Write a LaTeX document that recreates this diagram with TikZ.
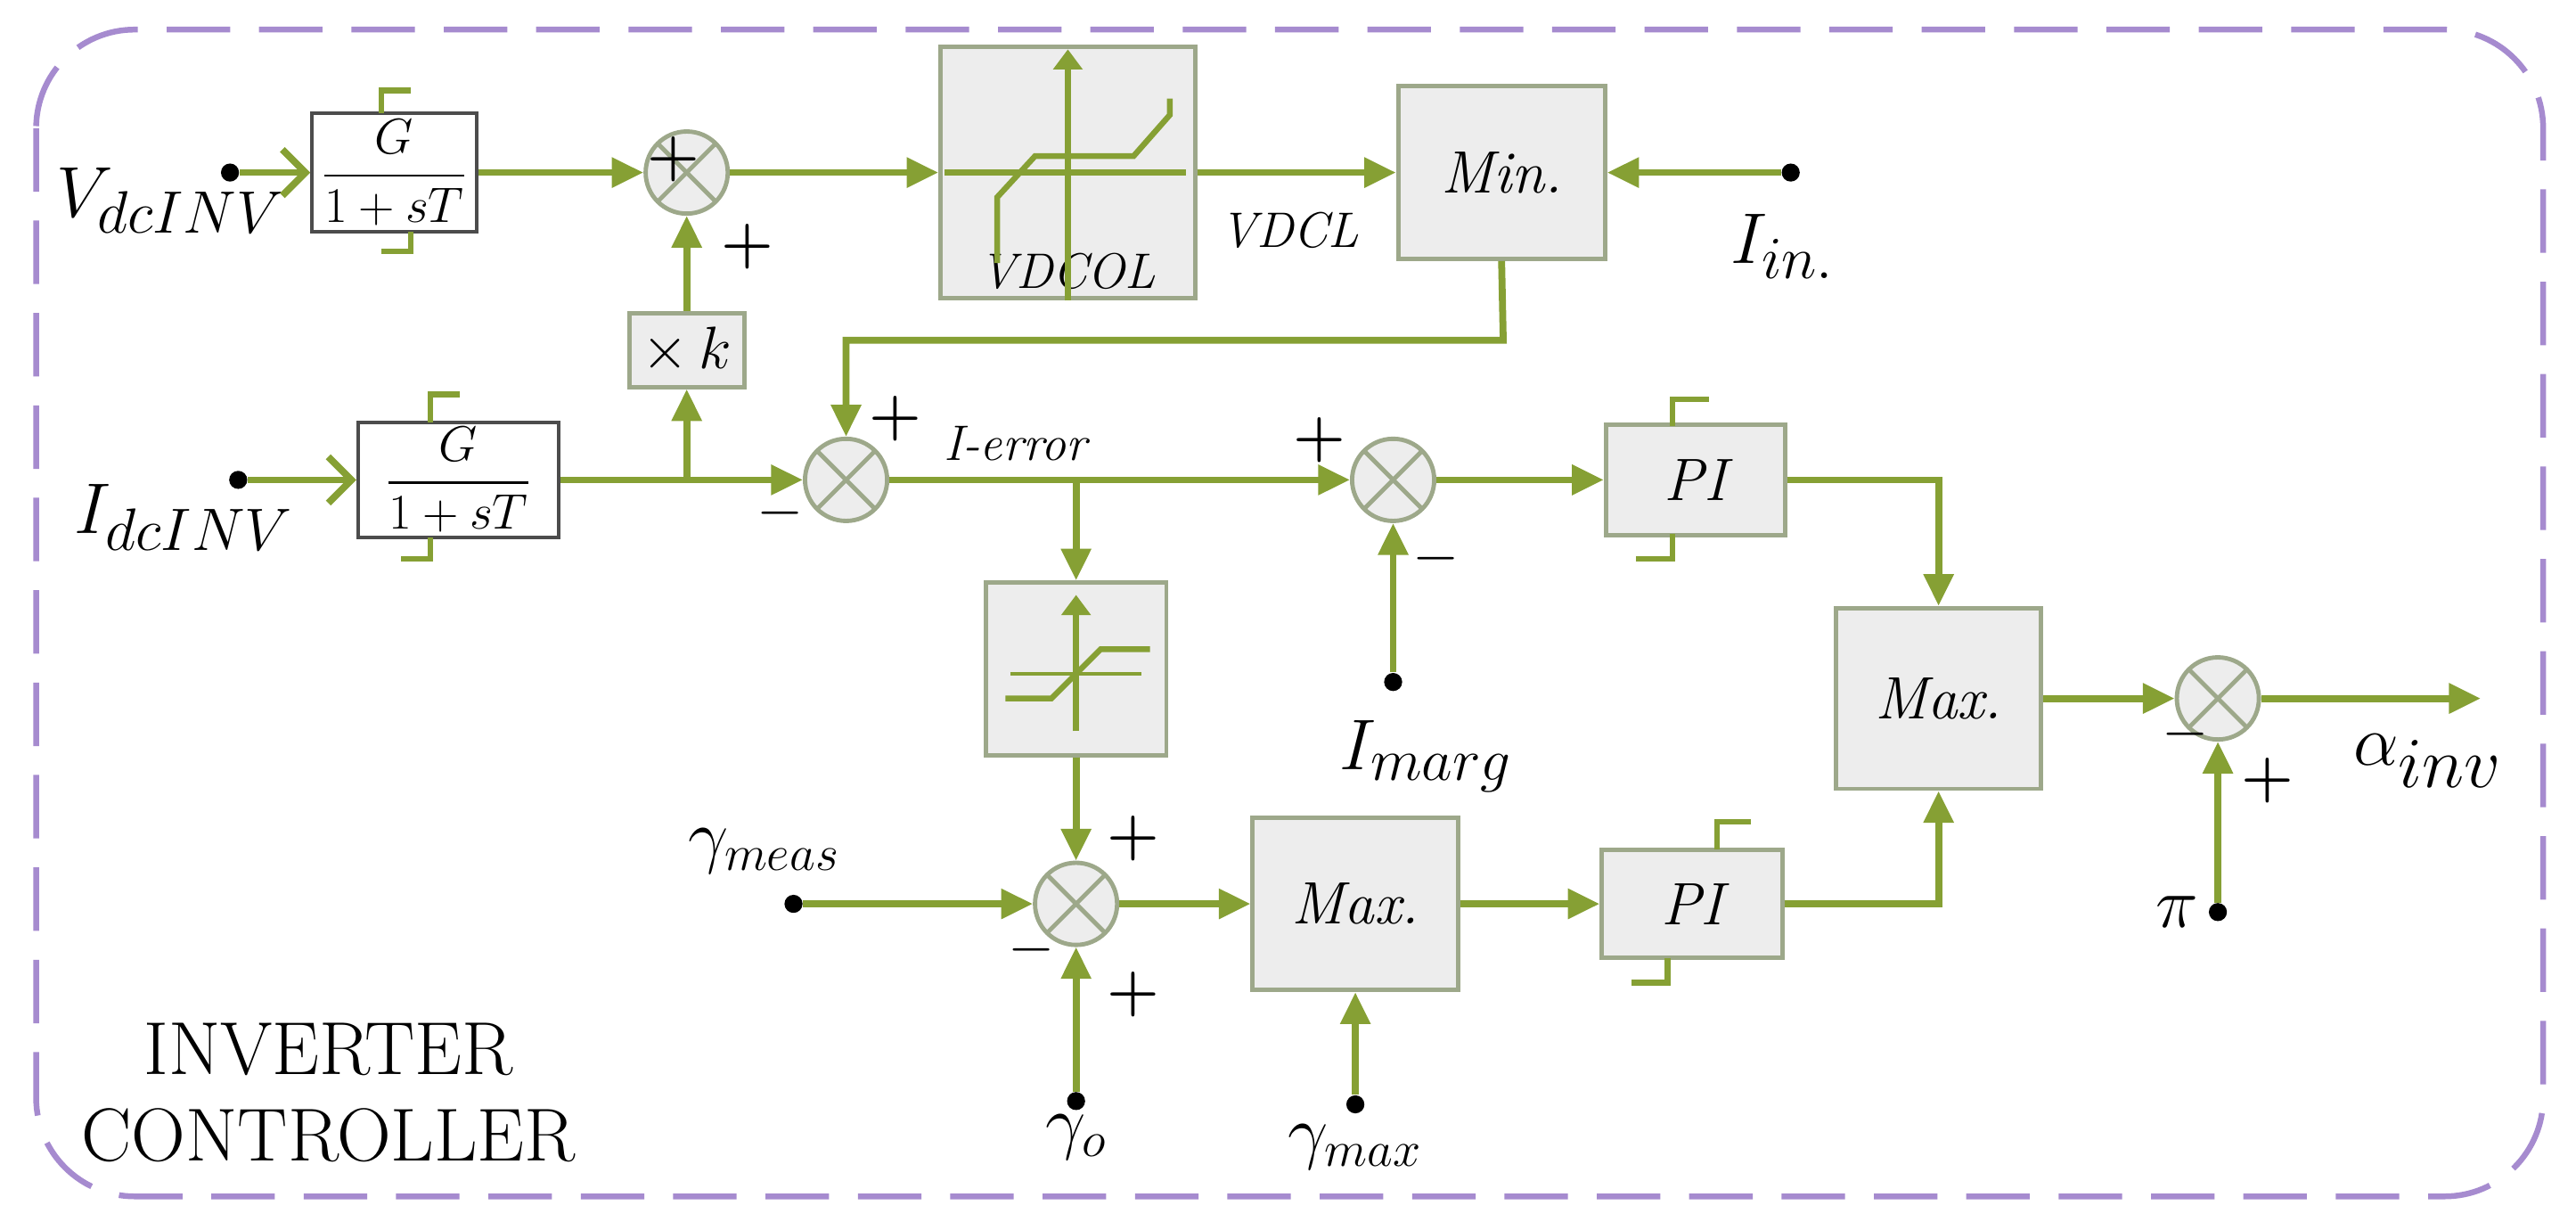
\documentclass[tikz,border=0pt]{standalone}
\usepackage{amsmath}
\usetikzlibrary{arrows.meta}
\definecolor{gr}{HTML}{86A034}
\definecolor{bx}{HTML}{EDEDED}
\definecolor{bxd}{HTML}{9DA88A}
\definecolor{pu}{HTML}{A68BCF}
\begin{document}
\begin{tikzpicture}[x=0.02cm,y=-0.02cm,
 w/.style={gr,line width=2.4pt},
 a/.style={w,-{Triangle[length=11pt,width=10pt]}},
 sum/.style={circle,draw=bxd,fill=bx,line width=1.5pt,minimum size=1cm,inner sep=0pt,
   path picture={\draw[bxd,line width=1.5pt](path picture bounding box.north west)--(path picture bounding box.south east)
   (path picture bounding box.north east)--(path picture bounding box.south west);}},
 blk/.style={draw=bxd,fill=bx,line width=1.5pt,inner sep=0pt,font=\huge\itshape},
 tf/.style={draw=black!70,line width=1.3pt,inner sep=0pt,fill=white,font=\LARGE},
 lab/.style={font=\LARGE\itshape},
 dot/.style={circle,fill=black,inner sep=0pt,minimum size=0.22cm},
 sg/.style={font=\huge\bfseries}]
\useasboundingbox (0,0) rectangle (1568,748);
\draw[pu,line width=2pt,dash pattern=on 22pt off 10pt,rounded corners=1.2cm] (22,18) rectangle (1548,728);
% ---- top row
\node[dot] (vd) at (140,105) {};
\node[font=\fontsize{30}{30}\selectfont,anchor=east] at (180,122) {$V_{dcINV}$};
\node[tf,minimum width=2cm,minimum height=1.44cm] (g1) at (240,105) {$\dfrac{G}{1+sT}$};
\draw[gr,line width=2pt] (232,69)--(232,55)--(250,55) (250,141)--(250,153)--(232,153);
\draw[w,-{Straight Barb[length=8pt]}] (vd)--(g1.west);
\node[sum] (s1) at (418,105) {};
\node[sg] at (410,97) {+};
\node[sg] at (455,150) {+};
\draw[a] (g1.east)--(s1.west);
\node[blk,minimum width=3.1cm,minimum height=3.06cm] (vdcol) at (650,105) {};
\node[lab] at (650,165) {VDCOL};
\draw[gr,line width=2pt,-{Triangle[length=7pt]}] (650,183)--(650,30);
\draw[gr,line width=2pt] (607,160)--(607,120)--(630,95)--(690,95)--(712,70)--(712,60);
\draw[w] (575,105)--(722,105);
\draw[a] (s1.east)--(vdcol.west);
\node[blk,minimum width=2.52cm,minimum height=2.1cm] (mn) at (914,105) {Min.};
\draw[a] (vdcol.east)--(mn.west);
\node[lab] at (785,140) {VDCL};
\node[dot] (iin) at (1090,105) {};
\draw[a] (iin)--(mn.east);
\node[font=\fontsize{30}{30}\selectfont] at (1085,150) {$I_{in.}$};
% ---- kx
\node[blk,minimum width=1.4cm,minimum height=0.9cm,font=\huge] (k) at (418,213) {$\times\,k$};
\draw[a] (k.north)--(s1.south);
% ---- second row
\node[dot] (id) at (145,292) {};
\node[font=\fontsize{30}{30}\selectfont,anchor=east] at (185,315) {$I_{dcINV}$};
\node[tf,minimum width=2.44cm,minimum height=1.4cm] (g2) at (279,292) {$\dfrac{G}{1+sT}$};
\draw[gr,line width=2pt] (262,257)--(262,240)--(280,240) (262,327)--(262,340)--(244,340);
\draw[w,-{Straight Barb[length=8pt]}] (id)--(g2.west);
\node[sum] (s2) at (515,292) {};
\coordinate (br) at (418,292);
\draw[w] (g2.east)--(br);
\draw[a] (br)--(s2.west);
\draw[a] (br)--(k.south);
\node[sg] at (475,312) {$-$};
\node[sg] at (545,255) {+};
\draw[a] (mn.south)--(915,207)-|(s2.north);
\node[sum] (s3) at (848,292) {};
\draw[a] (s2.east)--(s3.west);
\node[lab] at (618,270) {I-error};
\node[sg] at (803,268) {+};
\node[sg] at (874,340) {$-$};
\node[blk,minimum width=2.18cm,minimum height=1.34cm] (pi1) at (1032,292) {PI};
\draw[gr,line width=2pt] (1018,259)--(1018,243)--(1040,243) (1018,325)--(1018,340)--(996,340);
\draw[a] (s3.east)--(pi1.west);
\node[dot] (im) at (848,415) {};
\draw[a] (im)--(s3.south);
\node[font=\fontsize{30}{30}\selectfont] at (868,460) {$I_{marg}$};
% deadband
\node[blk,minimum width=2.2cm,minimum height=2.1cm] (db) at (655,407) {};
\draw[gr,line width=2pt,-{Triangle[length=7pt]}] (655,445)--(655,362);
\draw[gr,line width=2pt] (612,425)--(640,425)--(670,395)--(700,395);
\draw[gr,line width=1.5pt] (615,410)--(695,410);
\coordinate (eb) at (655,292);
\draw[a] (eb)--(db.north);
% Max
\node[blk,minimum width=2.5cm,minimum height=2.2cm] (mx) at (1180,425) {Max.};
\draw[a] (pi1.east)-|(mx.north);
\node[sum] (s4) at (1350,425) {};
\draw[a] (mx.east)--(s4.west);
\node[sg] at (1330,447) {$-$};
\node[sg] at (1380,475) {+};
\node[dot] (pi) at (1350,555) {};
\draw[a] (pi)--(s4.south);
\node[font=\fontsize{28}{28}\selectfont] at (1325,555) {$\pi$};
\coordinate (out) at (1510,425);
\draw[a] (s4.east)--(out);
\node[font=\fontsize{34}{34}\selectfont] at (1478,463) {$\alpha_{inv}$};
% bottom row
\node[sum] (s5) at (655,550) {};
\draw[a] (db.south)--(s5.north);
\node[sg] at (690,510) {+};
\node[sg] at (628,578) {$-$};
\node[sg] at (690,605) {+};
\node[dot] (gm) at (483,550) {};
\node[font=\fontsize{24}{24}\selectfont] at (465,518) {$\gamma_{meas}$};
\draw[a] (gm)--(s5.west);
\node[dot] (g0) at (655,670) {};
\node[font=\fontsize{24}{24}\selectfont] at (655,692) {$\gamma_o$};
\draw[a] (g0)--(s5.south);
\node[blk,minimum width=2.5cm,minimum height=2.1cm] (mx2) at (825,550) {Max.};
\draw[a] (s5.east)--(mx2.west);
\node[dot] (gx) at (825,672) {};
\node[font=\fontsize{24}{24}\selectfont] at (825,698) {$\gamma_{max}$};
\draw[a] (gx)--(mx2.south);
\node[blk,minimum width=2.2cm,minimum height=1.32cm] (pi2) at (1030,550) {PI};
\draw[gr,line width=2pt] (1045,517)--(1045,500)--(1066,500) (1015,583)--(1015,598)--(993,598);
\draw[a] (mx2.east)--(pi2.west);
\draw[a] (pi2.east)-|(mx.south);
\node[font=\fontsize{26}{30}\selectfont,align=center] at (200,665) {INVERTER\\CONTROLLER};
\end{tikzpicture}
\end{document}
